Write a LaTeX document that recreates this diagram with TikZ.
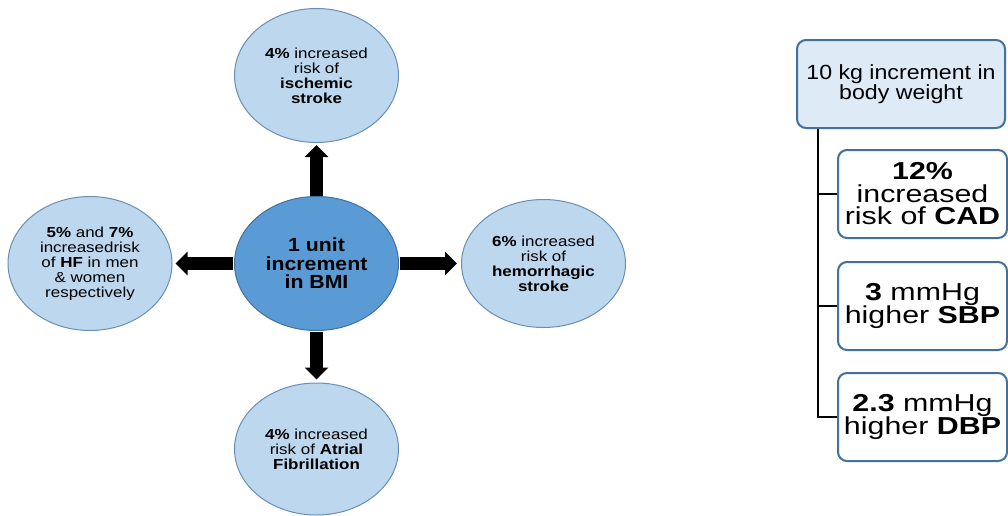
\documentclass[tikz,border=0pt]{standalone}
\usepackage{fontspec}
\setmainfont{Liberation Sans}
\newfontfamily\elfont{Liberation Sans}[FakeStretch=1.17]
\newfontfamily\cenfont{Liberation Sans}[FakeStretch=1.12]
\newfontfamily\topfont{Liberation Sans}[FakeStretch=1.13]
\newfontfamily\boxfont{Liberation Sans}[FakeStretch=1.24]
\usetikzlibrary{shapes.geometric,arrows.meta}
\definecolor{elfill}{HTML}{BDD7EE}
\definecolor{eldraw}{HTML}{6A8FB5}
\definecolor{cenfill}{HTML}{5B9BD5}
\definecolor{cendraw}{HTML}{41719C}
\definecolor{tbfill}{HTML}{DEEBF7}
\definecolor{bxdraw}{HTML}{41719C}
\tikzset{
  oval/.style={ellipse, draw=eldraw, fill=elfill, line width=1pt,
    minimum width=164pt, minimum height=134pt, inner sep=0pt,
    align=center, font=\elfont\fontsize{14.5}{15}\selectfont},
  cenoval/.style={oval, draw=cendraw, fill=cenfill,
    font=\cenfont\fontsize{19}{18.5}\selectfont},
  bigarrow/.style={line width=13pt, -{Triangle[width=23pt,length=12pt]}},
  topbox/.style={draw=bxdraw, fill=tbfill, line width=2pt, rounded corners=9pt,
    minimum width=208pt, minimum height=88pt, align=center, inner sep=0pt,
    font=\topfont\fontsize{20.5}{18.5}\selectfont},
  subbox/.style={draw=bxdraw, fill=white, line width=2pt, rounded corners=9pt,
    minimum width=169pt, minimum height=88pt, align=center, inner sep=0pt,
    font=\boxfont\fontsize{24.5}{22.5}\selectfont},
  spine/.style={line width=2pt, draw=black}
}
\begin{document}
\begin{tikzpicture}[x=1pt,y=-1pt]
\useasboundingbox (0,0) rectangle (1008,515);
% ellipses
\node[cenoval] (c) at (316.5,263.5) {\textbf{1 unit}\\\textbf{increment}\\\textbf{in BMI}};
\node[oval] (t) at (316.5,75.5) {\textbf{4\%} increased\\risk of\\\textbf{ischemic}\\\textbf{stroke}};
\node[oval] (l) at (90,263.5) {\textbf{5\%} and \textbf{7\%}\\increasedrisk\\of \textbf{HF} in men\\\& women\\respectively};
\node[oval, minimum height=128pt] (r) at (543.5,263.5) {\textbf{6\%} increased\\risk of\\\textbf{hemorrhagic}\\\textbf{stroke}};
\node[oval, minimum height=132pt] (b) at (316.5,449) {\textbf{4\%} increased\\risk of \textbf{Atrial}\\\textbf{Fibrillation}};
% arrows
\draw[bigarrow, shorten >=2pt] (c.north) -- (c.north |- t.south);
\draw[bigarrow, shorten >=3pt, shorten <=1pt] (c.west) -- (c.west -| l.east);
\draw[bigarrow, shorten >=4pt, shorten <=1pt] (c.east) -- (c.east -| r.west);
\draw[bigarrow, shorten >=3pt, shorten <=1pt] (c.south) -- (c.south |- b.north);
% right hierarchy
\node[topbox] (tb) at (901,84) {10 kg increment in\\body weight};
\node[subbox] (b1) at (922.5,194) {\textbf{12\%}\\increased\\risk of \textbf{CAD}};
\node[subbox] (b2) at (922.5,306) {\textbf{3} mmHg\\higher \textbf{SBP}};
\node[subbox] (b3) at (922.5,417) {\textbf{2.3} mmHg\\higher \textbf{DBP}};
\coordinate (sp) at (818,0);
\draw[spine] (tb.south -| sp) |- (b3.west);
\draw[spine] (b1.west) -- (b1.west -| sp);
\draw[spine] (b2.west) -- (b2.west -| sp);
\end{tikzpicture}
\end{document}
